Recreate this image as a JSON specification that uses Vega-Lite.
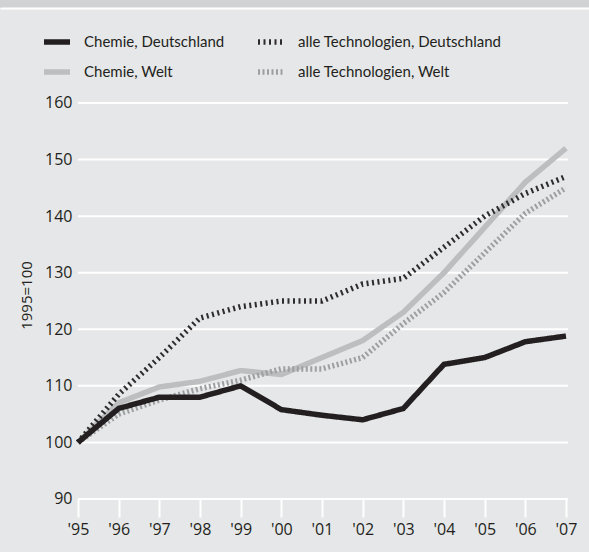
{
  "$schema": "https://vega.github.io/schema/vega-lite/v6.json",
  "background": "#d1d2d4",
  "autosize": "none",
  "padding": {"left": 0, "top": 8, "right": 0, "bottom": 0},
  "width": 589,
  "height": 544,
  "config": {
    "view": {"stroke": null, "fill": "#e6e7e8"},
    "font": "Open Sans"
  },
  "resolve": {"scale": {"x": "independent"}, "axis": {"x": "independent"}},
  "layer": [
    {
      "data": {
        "values": [
          {"v": 90}, {"v": 100}, {"v": 110}, {"v": 120},
          {"v": 130}, {"v": 140}, {"v": 150}, {"v": 160}
        ]
      },
      "mark": {"type": "rule", "color": "#ffffff", "strokeWidth": 2},
      "encoding": {
        "x": {
          "datum": 1995,
          "type": "quantitative",
          "scale": {"domain": [1993.082, 2007.566], "nice": false, "zero": false},
          "axis": null
        },
        "x2": {"datum": 2007.05},
        "y": {"field": "v", "type": "quantitative"}
      }
    },
    {
      "data": {
        "values": [
          {"year": 1995, "series": "Chemie, Welt", "value": 100},
          {"year": 1996, "series": "Chemie, Welt", "value": 107},
          {"year": 1997, "series": "Chemie, Welt", "value": 109.8},
          {"year": 1998, "series": "Chemie, Welt", "value": 110.8},
          {"year": 1999, "series": "Chemie, Welt", "value": 112.7},
          {"year": 2000, "series": "Chemie, Welt", "value": 112},
          {"year": 2001, "series": "Chemie, Welt", "value": 115},
          {"year": 2002, "series": "Chemie, Welt", "value": 118},
          {"year": 2003, "series": "Chemie, Welt", "value": 123},
          {"year": 2004, "series": "Chemie, Welt", "value": 130},
          {"year": 2005, "series": "Chemie, Welt", "value": 138},
          {"year": 2006, "series": "Chemie, Welt", "value": 146},
          {"year": 2007, "series": "Chemie, Welt", "value": 152},
          {"year": 1995, "series": "alle Technologien, Welt", "value": 100},
          {"year": 1996, "series": "alle Technologien, Welt", "value": 105},
          {"year": 1997, "series": "alle Technologien, Welt", "value": 107.5},
          {"year": 1998, "series": "alle Technologien, Welt", "value": 109.5},
          {"year": 1999, "series": "alle Technologien, Welt", "value": 111},
          {"year": 2000, "series": "alle Technologien, Welt", "value": 113},
          {"year": 2001, "series": "alle Technologien, Welt", "value": 113},
          {"year": 2002, "series": "alle Technologien, Welt", "value": 115},
          {"year": 2003, "series": "alle Technologien, Welt", "value": 121},
          {"year": 2004, "series": "alle Technologien, Welt", "value": 126.5},
          {"year": 2005, "series": "alle Technologien, Welt", "value": 133.5},
          {"year": 2006, "series": "alle Technologien, Welt", "value": 140.5},
          {"year": 2007, "series": "alle Technologien, Welt", "value": 145},
          {"year": 1995, "series": "alle Technologien, Deutschland", "value": 100},
          {"year": 1996, "series": "alle Technologien, Deutschland", "value": 108.5},
          {"year": 1997, "series": "alle Technologien, Deutschland", "value": 115},
          {"year": 1998, "series": "alle Technologien, Deutschland", "value": 122},
          {"year": 1999, "series": "alle Technologien, Deutschland", "value": 124},
          {"year": 2000, "series": "alle Technologien, Deutschland", "value": 125},
          {"year": 2001, "series": "alle Technologien, Deutschland", "value": 125},
          {"year": 2002, "series": "alle Technologien, Deutschland", "value": 128},
          {"year": 2003, "series": "alle Technologien, Deutschland", "value": 129},
          {"year": 2004, "series": "alle Technologien, Deutschland", "value": 134.5},
          {"year": 2005, "series": "alle Technologien, Deutschland", "value": 140},
          {"year": 2006, "series": "alle Technologien, Deutschland", "value": 144},
          {"year": 2007, "series": "alle Technologien, Deutschland", "value": 147},
          {"year": 1995, "series": "Chemie, Deutschland", "value": 100},
          {"year": 1996, "series": "Chemie, Deutschland", "value": 106},
          {"year": 1997, "series": "Chemie, Deutschland", "value": 108},
          {"year": 1998, "series": "Chemie, Deutschland", "value": 108},
          {"year": 1999, "series": "Chemie, Deutschland", "value": 110},
          {"year": 2000, "series": "Chemie, Deutschland", "value": 105.8},
          {"year": 2001, "series": "Chemie, Deutschland", "value": 104.8},
          {"year": 2002, "series": "Chemie, Deutschland", "value": 104},
          {"year": 2003, "series": "Chemie, Deutschland", "value": 106},
          {"year": 2004, "series": "Chemie, Deutschland", "value": 113.8},
          {"year": 2005, "series": "Chemie, Deutschland", "value": 115},
          {"year": 2006, "series": "Chemie, Deutschland", "value": 117.8},
          {"year": 2007, "series": "Chemie, Deutschland", "value": 118.8}
        ]
      },
      "mark": {"type": "line", "strokeCap": "butt", "strokeJoin": "miter"},
      "encoding": {
        "x": {
          "field": "year",
          "type": "quantitative",
          "scale": {"domain": [1993.082, 2007.566], "nice": false, "zero": false},
          "axis": {
            "title": null,
            "orient": "bottom",
            "offset": -53,
            "values": [1995, 1996, 1997, 1998, 1999, 2000, 2001, 2002, 2003, 2004, 2005, 2006, 2007],
            "labelExpr": "\"'\" + substring(toString(datum.value), 2, 4)",
            "labelAngle": 0,
            "labelFont": "Open Sans",
            "labelFontSize": 16,
            "labelColor": "#231f20",
            "labelPadding": 4,
            "labelFlush": false,
            "labelOverlap": false,
            "domain": false,
            "tickColor": "#ffffff",
            "tickWidth": 2,
            "tickSize": 18,
            "grid": false
          }
        },
        "y": {
          "field": "value",
          "type": "quantitative",
          "scale": {"domain": [80.63, 176.79], "nice": false, "zero": false},
          "axis": {
            "offset": -78,
            "values": [90, 100, 110, 120, 130, 140, 150, 160],
            "title": "1995=100",
            "titleFont": "Open Sans",
            "titleFontSize": 15,
            "titleFontWeight": "normal",
            "titleColor": "#231f20",
            "titlePadding": 10,
            "titleY": 287,
            "labelFont": "Open Sans",
            "labelFontSize": 16,
            "labelColor": "#231f20",
            "labelPadding": 6,
            "labelFlush": false,
            "labelOverlap": false,
            "domain": false,
            "ticks": false,
            "grid": false
          }
        },
        "color": {
          "field": "series",
          "type": "nominal",
          "scale": {
            "domain": ["Chemie, Deutschland", "Chemie, Welt", "alle Technologien, Deutschland", "alle Technologien, Welt"],
            "range": ["#231f20", "#bcbec0", "#2e2b2c", "#9d9fa2"]
          },
          "legend": {
            "title": null,
            "orient": "none",
            "legendX": 41,
            "legendY": 18,
            "columns": 2,
            "columnPadding": 22,
            "rowPadding": 3,
            "symbolType": "stroke",
            "symbolSize": 676,
            "labelFont": "Lato",
            "labelFontSize": 15,
            "labelLimit": 400,
            "labelColor": "#231f20",
            "labelOffset": 11
          }
        },
        "strokeDash": {
          "field": "series",
          "type": "nominal",
          "scale": {
            "domain": ["Chemie, Deutschland", "Chemie, Welt", "alle Technologien, Deutschland", "alle Technologien, Welt"],
            "range": [[1, 0], [1, 0], [2, 3.5], [2, 2.5]]
          },
          "legend": {
            "title": null,
            "orient": "none",
            "legendX": 41,
            "legendY": 18,
            "columns": 2,
            "columnPadding": 22,
            "rowPadding": 3,
            "symbolType": "stroke",
            "symbolSize": 676,
            "labelFont": "Lato",
            "labelFontSize": 15,
            "labelLimit": 400,
            "labelColor": "#231f20",
            "labelOffset": 11
          }
        },
        "strokeWidth": {
          "field": "series",
          "type": "nominal",
          "scale": {
            "domain": ["Chemie, Deutschland", "Chemie, Welt", "alle Technologien, Deutschland", "alle Technologien, Welt"],
            "range": [5.5, 5.5, 5.5, 8]
          },
          "legend": {
            "title": null,
            "orient": "none",
            "legendX": 41,
            "legendY": 18,
            "columns": 2,
            "columnPadding": 22,
            "rowPadding": 3,
            "symbolType": "stroke",
            "symbolSize": 676,
            "labelFont": "Lato",
            "labelFontSize": 15,
            "labelLimit": 400,
            "labelColor": "#231f20",
            "labelOffset": 11
          }
        }
      }
    },
    {
      "data": {"values": [{"edge": 1}]},
      "mark": {"type": "rule", "opacity": 0},
      "encoding": {
        "x": {
          "datum": 1995,
          "type": "quantitative",
          "scale": {"domain": [1993.082, 2007.566], "nice": false, "zero": false},
          "axis": {
            "orient": "top",
            "title": null,
            "labels": false,
            "ticks": false,
            "grid": false,
            "domainColor": "#ffffff",
            "domainWidth": 2
          }
        }
      }
    }
  ]
}
